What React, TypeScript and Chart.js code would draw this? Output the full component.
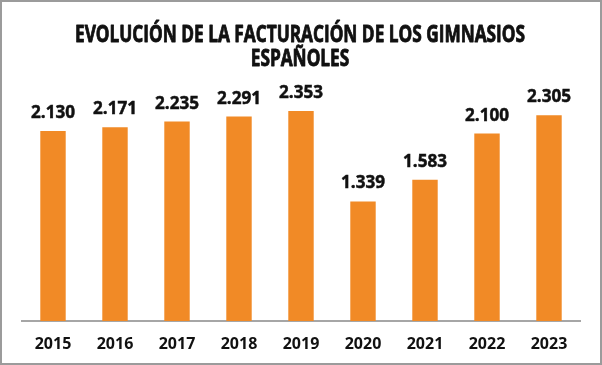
import React, { useEffect, useRef } from "react";
import { Chart, registerables } from "chart.js";

Chart.register(...registerables);

const years = ["2015", "2016", "2017", "2018", "2019", "2020", "2021", "2022", "2023"];
const revenue = [2130, 2171, 2235, 2291, 2353, 1339, 1583, 2100, 2305];
const titleLines = ["EVOLUCIÓN DE LA FACTURACIÓN DE LOS GIMNASIOS", "ESPAÑOLES"];

const BAR_COLOR = "#F18A26";
const TEXT_COLOR = "#111111";

const fmt = (v: number) => {
  const th = Math.floor(v / 1000);
  const rest = String(v % 1000).padStart(3, "0");
  return th > 0 ? `${th}.${rest}` : String(v);
};

const titlePlugin = {
  id: "customTitle",
  afterDraw(chart: any) {
    const ctx = chart.ctx;
    const cx = (chart.chartArea.left + chart.chartArea.right) / 2 - 1;
    ctx.save();
    ctx.fillStyle = TEXT_COLOR;
    ctx.strokeStyle = TEXT_COLOR;
    ctx.lineWidth = 0.9;
    ctx.lineJoin = "round";
    ctx.font = "bold 24px 'Open Sans'";
    ctx.textAlign = "center";
    ctx.textBaseline = "alphabetic";
    const w0 = ctx.measureText(titleLines[0]).width;
    const sx = 450 / w0;
    const baselines = [40, 64];
    titleLines.forEach((line, i) => {
      ctx.save();
      ctx.translate(cx, baselines[i]);
      ctx.scale(sx, 1);
      ctx.fillText(line, 0, 0);
      ctx.strokeText(line, 0, 0);
      ctx.restore();
    });
    ctx.restore();
  },
};

const valueLabelPlugin = {
  id: "valueLabels",
  afterDatasetsDraw(chart: any) {
    const ctx = chart.ctx;
    const meta = chart.getDatasetMeta(0);
    ctx.save();
    ctx.fillStyle = TEXT_COLOR;
    ctx.strokeStyle = TEXT_COLOR;
    ctx.lineWidth = 0.5;
    ctx.font = "bold 18px 'Open Sans'";
    ctx.textAlign = "center";
    ctx.textBaseline = "alphabetic";
    meta.data.forEach((bar: any, i: number) => {
      const txt = fmt(revenue[i]);
      ctx.save();
      ctx.translate(bar.x, bar.y - 13);
      ctx.scale(0.95, 1);
      ctx.fillText(txt, 0, 0);
      ctx.strokeText(txt, 0, 0);
      ctx.restore();
    });
    ctx.restore();
  },
};

export default function App() {
  const ref = useRef<HTMLCanvasElement>(null);
  useEffect(() => {
    if (!ref.current) return;
    const chart = new Chart(ref.current, {
      type: "bar",
      data: {
        labels: years,
        datasets: [
          {
            data: revenue,
            backgroundColor: BAR_COLOR,
            borderWidth: 0,
            barPercentage: 0.41,
            categoryPercentage: 1,
          },
        ],
      },
      options: {
        animation: false,
        responsive: false,
        maintainAspectRatio: false,
        layout: { padding: { left: 20, right: 20, top: 78, bottom: 0 } },
        plugins: {
          legend: { display: false },
          tooltip: { enabled: false },
          title: { display: false },
        },
        scales: {
          x: {
            grid: { display: false, drawTicks: false },
            border: { display: true, color: "#a6a6a6", width: 2 },
            ticks: {
              color: TEXT_COLOR,
              font: { family: "'Open Sans'", weight: "bold", size: 16 },
              padding: 14,
            },
            afterFit: (scale: any) => {
              scale.height = 42;
            },
          },
          y: {
            display: false,
            min: 0,
            max: 2700,
          },
        },
      },
      plugins: [titlePlugin, valueLabelPlugin],
    });
    return () => chart.destroy();
  }, []);
  return (
    <div
      style={{
        position: "fixed",
        left: 0,
        top: 0,
        width: 602,
        height: 365,
        boxSizing: "border-box",
        border: "2px solid #9b9b9b",
        background: "#fff",
        overflow: "hidden",
      }}
    >
      <canvas ref={ref} width={598} height={361} style={{ display: "block", width: 598, height: 361 }} />
    </div>
  );
}
